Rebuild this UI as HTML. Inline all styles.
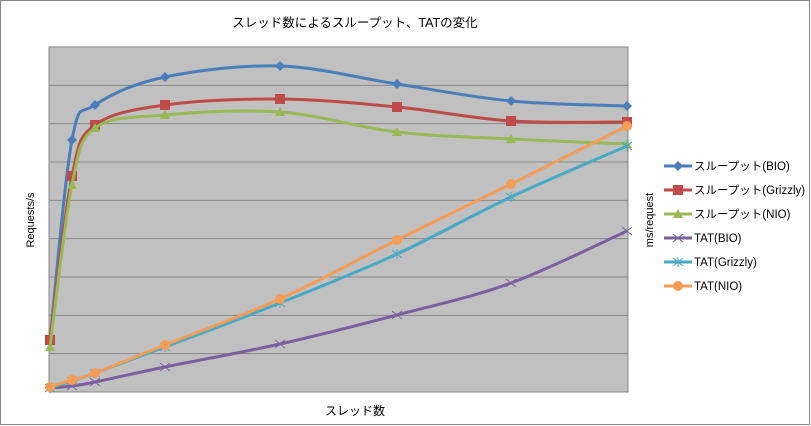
<!DOCTYPE html>
<html><head><meta charset="utf-8"><style>
body{margin:0;background:#fff}
svg{display:block;font-family:"Liberation Sans","Noto Sans CJK JP",sans-serif}
</style></head><body>
<svg id="s" width="811" height="426" viewBox="0 0 811 426" xmlns="http://www.w3.org/2000/svg">
<rect x="0.5" y="0.5" width="809" height="424" fill="#fff" stroke="#888"/>
<text x="355" y="27" font-size="12.5" text-anchor="middle" font-family="Liberation Sans, Noto Sans CJK JP, sans-serif">スレッド数によるスループット、TATの変化</text>
<rect x="49" y="47" width="579" height="345" fill="#c0c0c0" stroke="#888"/>
<g id="grid" stroke="#888" stroke-width="1"></g>
<text x="355" y="415" font-size="12" text-anchor="middle">スレッド数</text>
<text transform="translate(34,220) rotate(-90)" font-size="11" text-anchor="middle">Requests/s</text>
<text transform="translate(653,220) rotate(-90)" font-size="11" text-anchor="middle">ms/request</text>
<g id="series"></g>
<g id="legend" font-size="11.5"></g>
</svg>
<script>
var NS="http://www.w3.org/2000/svg";
function el(t,a,p){var e=document.createElementNS(NS,t);for(var k in a)e.setAttribute(k,a[k]);p.appendChild(e);return e;}
var g=document.getElementById('grid');
for(var i=1;i<9;i++){var y=47+i*345/9;el('line',{x1:49,x2:628,y1:y,y2:y},g);}
var X=[50,72,95,165,280,397,511,627];
var S=[
{c:'#4a7ebb',m:'d',y:[340,140,105,77,66,84,101,106],n:'スループット(BIO)'},
{c:'#be4b48',m:'s',y:[340,176,125,105,99,107,121,122],n:'スループット(Grizzly)'},
{c:'#98b954',m:'t',y:[347,185,128,115,112,132,139,144],n:'スループット(NIO)'},
{c:'#7d5fa0',m:'x',y:[388,386,382,367,344,315,283,231],n:'TAT(BIO)'},
{c:'#46aac5',m:'a',y:[388,381,373,347,303,254,197,146],n:'TAT(Grizzly)'},
{c:'#f59d56',m:'o',y:[387,380,373,345,299,240,184,126],n:'TAT(NIO)'}];
function path(xs,ys){var d='M'+xs[0]+','+ys[0];var t=0.5/3*2;
for(var i=0;i<xs.length-1;i++){var x0=xs[i-1]!==undefined?xs[i-1]:xs[i],y0=ys[i-1]!==undefined?ys[i-1]:ys[i];
var x3=xs[i+2]!==undefined?xs[i+2]:xs[i+1],y3=ys[i+2]!==undefined?ys[i+2]:ys[i+1];
var k=1/6;d+=' C'+(xs[i]+(xs[i+1]-x0)*k)+','+(ys[i]+(ys[i+1]-y0)*k)+' '+(xs[i+1]-(x3-xs[i])*k)+','+(ys[i+1]-(y3-ys[i])*k)+' '+xs[i+1]+','+ys[i+1];}
return d;}
function mark(m,x,y,c,p){
if(m=='d')el('path',{d:'M'+x+','+(y-5)+'l5,5l-5,5l-5,-5z',fill:c},p);
else if(m=='s')el('rect',{x:x-5,y:y-5,width:10,height:10,fill:c},p);
else if(m=='t')el('path',{d:'M'+x+','+(y-5)+'l5,9h-10z',fill:c},p);
else if(m=='x')el('path',{d:'M'+(x-5)+','+(y-4)+'l10,8M'+(x+5)+','+(y-4)+'l-10,8',stroke:c,'stroke-width':1},p);
else if(m=='a')el('path',{d:'M'+(x-5)+','+(y-4)+'l10,8M'+(x+5)+','+(y-4)+'l-10,8M'+x+','+(y-5)+'v10',stroke:c,'stroke-width':1},p);
else el('circle',{cx:x,cy:y,r:5,fill:c},p);}
var sg=document.getElementById('series'),lg=document.getElementById('legend');
S.forEach(function(s,i){
el('path',{d:path(X,s.y),fill:'none',stroke:s.c,'stroke-width':3},sg);
X.forEach(function(x,j){mark(s.m,x,s.y[j],s.c,sg);});
var ly=166+i*24;el('line',{x1:664,x2:692,y1:ly,y2:ly,stroke:s.c,'stroke-width':3},lg);
mark(s.m,678,ly,s.c,lg);
var t=el('text',{x:694,y:ly+4},lg);t.textContent=s.n;});
</script>
</body></html>
